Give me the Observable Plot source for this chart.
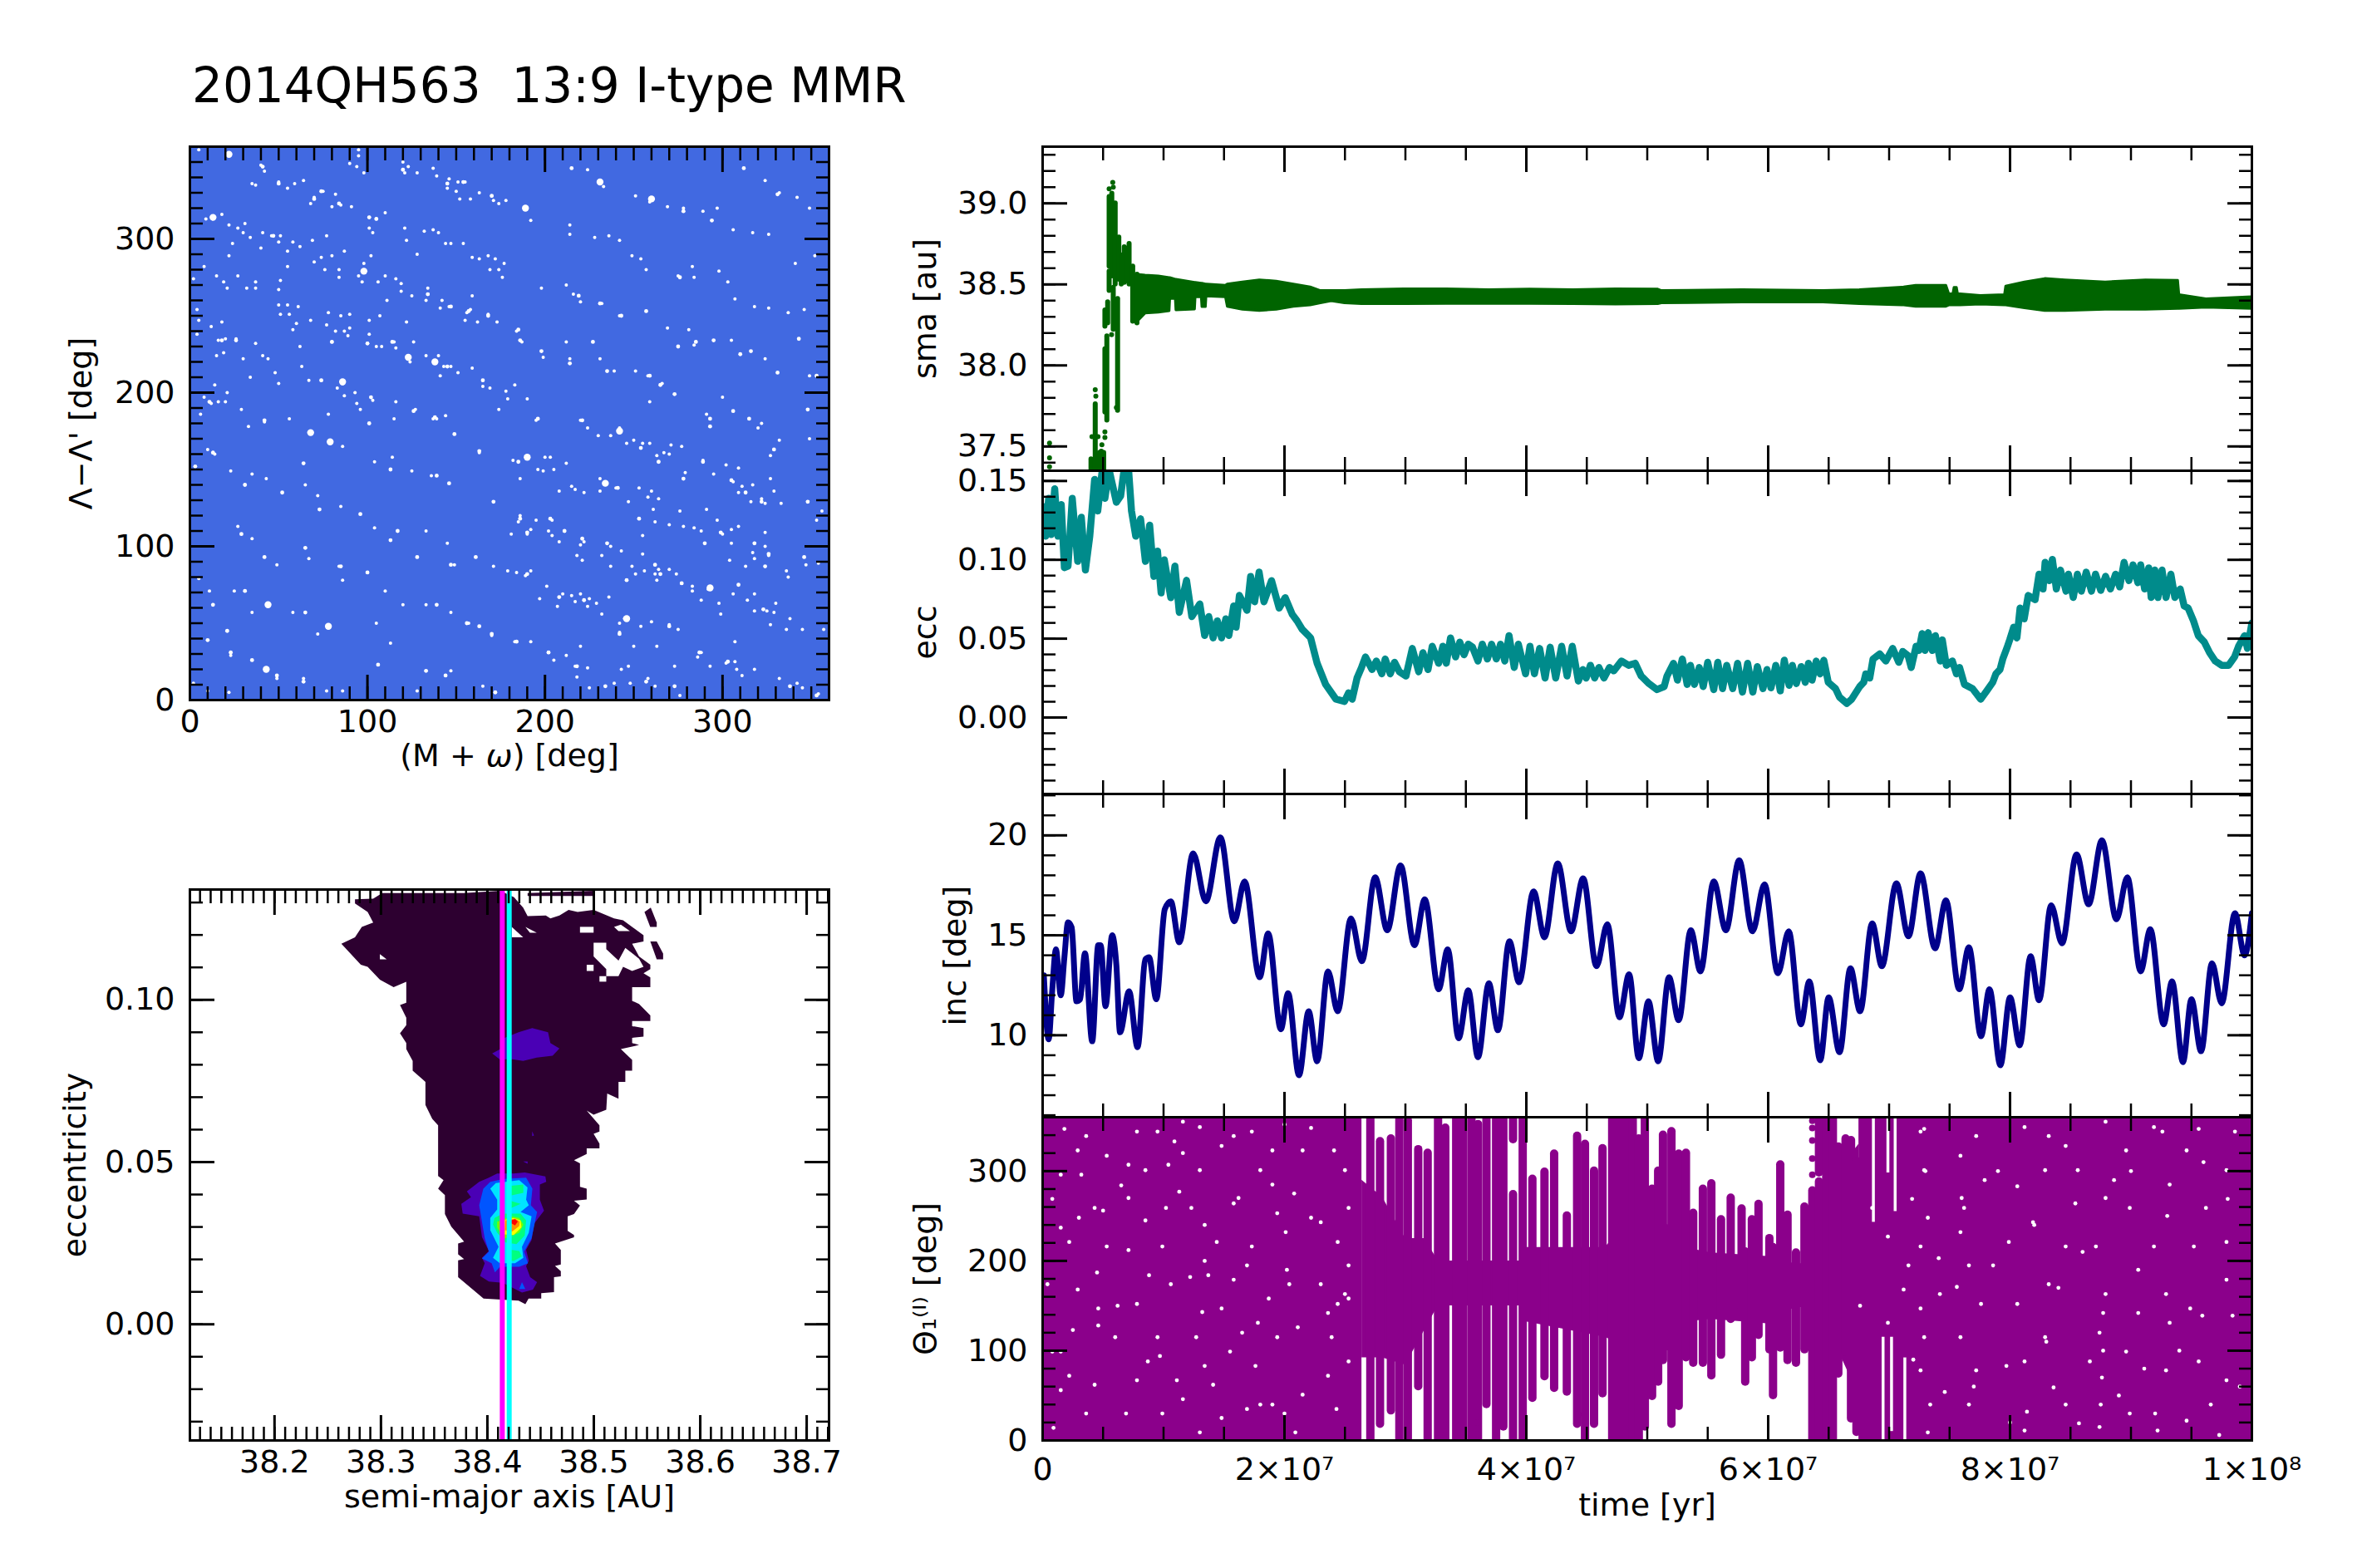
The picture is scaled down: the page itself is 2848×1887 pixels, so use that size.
<!DOCTYPE html>
<html>
<head>
<meta charset="utf-8">
<script src="https://cdn.jsdelivr.net/npm/d3@7"></script>
<script src="https://cdn.jsdelivr.net/npm/@observablehq/plot@0.6"></script>
<style>
  html, body { margin: 0; background: white; }
  #figure { position: relative; width: 2848px; height: 1887px; overflow: hidden; }
  #title { position: absolute; left: 231px; top: 69px; font: 58px "DejaVu Sans"; color: black; white-space: pre; }
</style>
</head>
<body>
<div id="figure"><div id="title">2014QH563  13:9 I-type MMR</div></div>
<script>
// time is kept in units of 1e7 yr
const timeDomain = [0, 10];
const timeTicks = [0, 2, 4, 6, 8, 10];
const timeTickLabels = ["0", "2×10⁷", "4×10⁷", "6×10⁷", "8×10⁷", "1×10⁸"];

// ---- resonant plane: white gaps in the dense cloud of points
const gapsBig = [[13,314],[22,355],[190,158],[234,141],[242,175],[246,53],[123,223],[138,220],[86,207],[98,279],[189,320],[231,337],[260,326],[68,174],[79,168],[43,20],[78,48],[44,62],[293,73]];
const gapsSmall = [[41,347],[50,336],[70,326],[74,331],[84,323],[101,314],[105,313],[120,345],[145,336],[154,337],[170,328],[215,346],[278,318],[294,312],[312,346],[331,329],[47,302],[276,275],[219,263],[231,258],[253,118],[245,53],[172,5],[257,253],[243,250],[295,234],[285,233],[343,235],[310,225],[331,213],[259,211],[265,205],[273,199],[306,188],[293,183],[221,182],[196,183],[214,219],[235,214],[186,234],[185,241],[168,250],[157,253],[147,256],[134,264],[114,233],[145,217],[80,233],[100,232],[74,208],[86,206],[18,234],[26,234],[102,197],[126,188],[138,184],[149,173],[42,182],[13,161],[3,152],[11,194],[163,162],[185,155],[264,155],[241,138],[278,144],[289,155],[305,143],[322,129],[313,135],[348,129],[299,109],[318,102],[326,95],[277,76],[265,82],[323,59],[309,75],[242,43],[270,48],[287,31],[235,102],[246,78],[203,118],[190,109],[186,118],[211,110],[171,129],[146,141],[139,146],[117,110],[113,104],[96,121],[73,124],[52,135],[65,99],[85,87],[100,83],[147,88],[161,93],[190,82],[31,71],[65,57],[49,16],[10,39],[35,26],[23,31],[163,48],[170,43],[156,50],[184,38],[202,31],[218,22],[144,16],[106,23],[133,19],[257,12],[273,9],[303,25],[338,9],[353,3],[234,9],[64,12],[21,45],[221,105],[290,102],[254,164],[353,211],[348,189],[315,183],[293,178],[128,93],[101,180],[64,154],[113,150],[31,140],[29,108],[42,93],[13,62],[139,62],[208,67],[222,65],[262,88],[324,87],[346,93],[329,163],[316,227],[275,230],[227,233],[198,227],[165,208]];
const gapsTiny = [[9,313],[18,316],[5,358],[40,348],[42,344],[50,337],[64,338],[59,336],[55,333],[35,336],[37,335],[75,331],[82,329],[70,327],[68,323],[85,322],[80,321],[91,321],[95,354],[95,358],[90,349],[94,347],[98,343],[121,343],[120,350],[123,347],[128,343],[137,346],[139,341],[146,339],[145,333],[155,337],[151,337],[150,331],[152,326],[158,326],[163,330],[170,328],[171,325],[174,323],[178,325],[27,307],[22,309],[31,310],[30,304],[34,301],[41,304],[46,302],[51,302],[50,298],[58,298],[62,295],[69,299],[77,302],[40,294],[22,289],[24,297],[55,292],[101,314],[105,313],[110,317],[101,307],[103,304],[87,292],[80,289],[74,288],[70,285],[76,280],[84,280],[84,275],[98,284],[102,289],[95,276],[110,276],[106,272],[97,272],[55,282],[8,282],[2,274],[19,272],[15,276],[21,268],[27,276],[37,272],[32,268],[37,268],[50,267],[51,273],[121,307],[137,306],[132,305],[140,304],[122,299],[147,297],[154,297],[144,297],[159,288],[163,287],[172,287],[168,289],[174,280],[177,284],[176,275],[169,280],[128,290],[116,274],[119,271],[119,266],[134,268],[133,260],[125,263],[134,264],[142,260],[146,256],[141,255],[111,260],[159,263],[158,254],[168,251],[162,246],[173,246],[156,252],[155,247],[55,257],[61,256],[50,257],[56,251],[51,251],[60,245],[68,247],[78,252],[85,250],[90,251],[77,244],[58,241],[101,247],[107,250],[122,246],[87,240],[90,242],[82,240],[89,237],[80,233],[100,232],[105,230],[115,233],[116,229],[126,233],[108,230],[101,238],[124,220],[133,224],[140,224],[143,217],[147,217],[151,213],[141,211],[159,216],[20,235],[26,235],[16,234],[19,226],[15,224],[4,238],[12,243],[18,246],[5,247],[4,254],[30,222],[37,232],[41,224],[44,222],[63,217],[48,213],[34,210],[50,206],[62,230],[74,208],[67,208],[83,203],[93,200],[87,198],[14,205],[8,197],[12,193],[20,194],[16,194],[21,200],[29,189],[103,195],[94,193],[127,189],[137,183],[144,185],[174,189],[178,201],[169,203],[165,204],[179,196],[116,194],[6,186],[78,186],[96,189],[42,181],[56,183],[115,183],[182,156],[200,158],[203,158],[212,154],[199,149],[205,150],[196,150],[186,144],[224,177],[230,172],[237,172],[250,169],[259,167],[255,167],[246,167],[271,166],[277,165],[264,155],[267,161],[263,159],[270,160],[289,156],[279,148],[295,147],[302,153],[309,151],[306,142],[317,140],[311,139],[309,135],[327,144],[322,131],[324,128],[316,129],[329,136],[333,128],[348,129],[356,123],[353,117],[332,169],[320,177],[349,170],[327,159],[240,138],[217,137],[215,139],[208,136],[231,136],[222,135],[258,132],[264,131],[253,138],[260,136],[247,129],[231,144],[186,120],[204,117],[185,116],[190,108],[181,108],[192,111],[202,110],[211,110],[204,107],[195,117],[253,118],[262,116],[261,124],[270,114],[276,123],[288,110],[300,108],[305,111],[309,113],[318,102],[324,109],[326,94],[324,100],[305,102],[284,112],[278,113],[291,124],[297,117],[255,107],[317,96],[318,92],[222,103],[237,100],[208,103],[220,101],[218,94],[221,91],[243,97],[232,94],[255,95],[237,87],[249,87],[251,82],[256,84],[264,85],[262,82],[263,78],[274,82],[270,85],[277,76],[283,74],[283,71],[292,72],[288,65],[298,63],[306,69],[318,69],[314,65],[189,81],[192,84],[184,83],[313,87],[304,91],[347,88],[336,84],[337,80],[354,89],[201,74],[197,66],[207,61],[215,68],[217,64],[220,69],[225,66],[229,63],[236,67],[232,56],[210,69],[224,61],[242,50],[242,44],[254,48],[270,49],[275,46],[260,51],[299,56],[325,58],[330,63],[329,57],[338,53],[357,46],[345,46],[336,46],[327,49],[318,58],[183,38],[192,38],[202,31],[205,26],[212,29],[220,35],[217,22],[224,21],[250,35],[263,35],[288,31],[286,28],[307,38],[307,25],[302,24],[293,22],[318,20],[308,20],[332,14],[342,11],[247,22],[243,20],[273,22],[218,15],[248,11],[262,9],[239,11],[225,8],[258,14],[276,3],[345,8],[354,4],[311,16],
  // upper right quarter
  [224,345],[233,334],[251,328],[259,324],[269,321],[278,320],[289,318],[297,320],[306,306],[324,338],[332,330],[342,327],[349,320],[192,312],[214,309],[214,303],[228,301],[236,302],[242,299],[249,289],[254,287],[257,280],[275,276],[283,282],[284,275],[298,279],[303,272],[307,261],[318,256],[326,255],[337,252],[346,254],[352,289],[341,284],[326,303],[317,304],[198,268],[212,270],[216,264],[220,259],[232,258],[242,250],[269,242],[281,241],[284,231],[305,234],[324,222],[349,211],[184,240],[187,233],[199,223],[212,233],[214,222],[231,222],[239,214],[251,214],[258,211],[266,206],[259,194],[291,186],[300,197],[322,180],[183,205],[190,196],[195,182],[220,182],[242,177],
  // lower left quarter
  [86,165],[33,178],[10,163],[14,160],[23,149],[35,147],[43,144],[65,140],[72,133],[85,126],[104,155],[114,158],[125,149],[136,146],[163,161],[139,183],[104,112],[133,110],[145,102],[171,87],[149,88],[179,84],[35,105],[49,88],[27,113],[67,92],[84,87],[86,78],[110,71],[5,79],[11,71],[25,71],[35,57],[58,57],[72,43],[105,50],[120,62],[133,62],[147,57],[157,50],[170,42],[23,29],[43,20],[49,14],[64,14],[77,6],[113,37],[147,19],[165,9],[2,11],[10,6],[22,5],[86,6],[128,6]
];

// ---- a-e density: filled contour levels, [semi-major axis, eccentricity]
const contourOuter = [[38.2756,.131],[38.2927,.1312],[38.3012,.1329],[38.3537,.1329],[38.3781,.1329],[38.4122,.1336],[38.425,.1316],[38.4336,.1284],[38.4378,.1258],[38.4549,.126],[38.4592,.1251],[38.4677,.126],[38.4763,.1277],[38.4848,.1271],[38.4998,.1277],[38.519,.1251],[38.5275,.1245],[38.536,.1225],[38.5467,.1199],[38.5467,.118],[38.536,.1173],[38.5425,.1134],[38.5531,.1108],[38.5531,.1095],[38.5467,.1082],[38.5531,.1069],[38.5531,.1039],[38.536,.1039],[38.536,.0997],[38.5425,.0987],[38.5531,.0952],[38.5531,.0935],[38.536,.0935],[38.536,.0919],[38.5467,.0913],[38.5467,.0887],[38.536,.0883],[38.536,.0867],[38.5425,.0861],[38.5254,.0848],[38.536,.0815],[38.536,.0782],[38.5296,.0782],[38.5296,.0747],[38.5232,.0747],[38.5232,.0695],[38.5126,.0711],[38.5117,.0661],[38.4998,.0646],[38.4933,.0659],[38.5053,.0613],[38.5053,.0594],[38.4998,.0587],[38.5053,.0557],[38.5053,.0542],[38.4933,.0542],[38.4933,.0525],[38.4814,.0506],[38.487,.0496],[38.487,.0424],[38.4933,.0418],[38.4933,.0385],[38.4814,.0381],[38.487,.0366],[38.4814,.034],[38.4754,.0333],[38.4754,.0288],[38.4814,.0275],[38.4814,.0268],[38.4635,.0249],[38.469,.0229],[38.469,.0184],[38.4635,.018],[38.469,.0164],[38.469,.0148],[38.4626,.0145],[38.4626,.0099],[38.4506,.0096],[38.4506,.0079],[38.4387,.0079],[38.4357,.0062],[38.4293,.0073],[38.3964,.0079],[38.3725,.0145],[38.3725,.0197],[38.3781,.0201],[38.3725,.0216],[38.3725,.0249],[38.3781,.0255],[38.3661,.0301],[38.3601,.034],[38.3601,.0398],[38.3537,.0418],[38.3588,.0444],[38.3537,.0457],[38.3537,.0613],[38.3482,.0633],[38.3418,.0676],[38.3418,.0747],[38.3298,.0782],[38.3298,.0812],[38.3238,.0848],[38.3238,.0867],[38.3179,.0897],[38.3238,.0922],[38.3238,.0945],[38.3179,.0984],[38.3238,.0991],[38.3238,.1056],[38.3119,.1039],[38.299,.1062],[38.2875,.1102],[38.2811,.1108],[38.2628,.1173],[38.2756,.1193],[38.282,.1225],[38.2927,.1238],[38.2875,.1271],[38.2756,.1297]];
const contourOuterIslands = [
  [[38.4378,.1329],[38.4998,.1336],[38.4998,.132],[38.4378,.132]],
  [[38.5476,.1271],[38.5535,.1284],[38.5591,.1238],[38.5591,.1225],[38.553,.1225]],
  [[38.5531,.118],[38.5591,.118],[38.5651,.1143],[38.5651,.1125],[38.5591,.1125]]
];
const contourHoles = [
  [[38.487,.1225],[38.4998,.1225],[38.4998,.1207],[38.487,.1207]],
  [[38.519,.1225],[38.5254,.1232],[38.5339,.1212],[38.5232,.1212]],
  [[38.4998,.1176],[38.5117,.1176],[38.5117,.1156],[38.5232,.1121],[38.5296,.116],[38.5425,.1127],[38.5467,.1102],[38.536,.1089],[38.5275,.1102],[38.5232,.1073],[38.5117,.1073],[38.5117,.1095],[38.4998,.1134]],
  [[38.4933,.1108],[38.4998,.1108],[38.4998,.1089],[38.4933,.1089]],
  [[38.5053,.1073],[38.5117,.1073],[38.5117,.1056],[38.5053,.1056]],
  [[38.4229,.1225],[38.4336,.1193],[38.4229,.1193]],
  [[38.4357,.1225],[38.4464,.1207],[38.44,.1207]],
  [[38.299,.1141],[38.3054,.1125],[38.299,.1125]]
];
const contourViolet = [
  [[38.4092,.0465],[38.4247,.0465],[38.4351,.0468],[38.4545,.0456],[38.4553,.0439],[38.4493,.0431],[38.4493,.0384],[38.4532,.035],[38.4441,.0311],[38.4415,.026],[38.4364,.023],[38.4389,.0196],[38.4364,.0179],[38.4402,.0145],[38.4467,.013],[38.4428,.0107],[38.4325,.0098],[38.4143,.0128],[38.4014,.0132],[38.3931,.0149],[38.3975,.0188],[38.3949,.0205],[38.4014,.0226],[38.3949,.0269],[38.3923,.0333],[38.3768,.0341],[38.3755,.0371],[38.3846,.0392],[38.3807,.041],[38.3923,.0439],[38.4014,.0452]],
  [[38.4045,.0835],[38.4122,.0848],[38.4144,.088],[38.4293,.09],[38.4421,.0913],[38.457,.09],[38.4592,.0867],[38.4677,.085],[38.4613,.0828],[38.4464,.0822],[38.4336,.0812],[38.4208,.0818],[38.4122,.0815]],
  [[38.4421,.0595],[38.4438,.0582],[38.4421,.058]],
  [[38.4336,.0502],[38.4378,.0502],[38.4378,.0495]]
];
const contourBlue = [
  [[38.3962,.0418],[38.4027,.0439],[38.4156,.0448],[38.4364,.0452],[38.4423,.0418],[38.4408,.0367],[38.4467,.0346],[38.4415,.0265],[38.4345,.0224],[38.4382,.0188],[38.4299,.0177],[38.4118,.0177],[38.4071,.016],[38.404,.0188],[38.3949,.0203],[38.4014,.0224],[38.3975,.0265],[38.3923,.0367]],
  [[38.4299,.0109],[38.4325,.013],[38.4356,.0109]]
];
const contourCyan = [[38.4027,.0418],[38.4079,.0435],[38.4299,.0444],[38.4377,.0422],[38.4364,.0384],[38.4389,.0367],[38.4312,.0346],[38.4415,.0333],[38.4389,.0282],[38.4325,.0239],[38.4338,.0205],[38.426,.0188],[38.4118,.0188],[38.4053,.0205],[38.4105,.0239],[38.4027,.029],[38.4027,.0328],[38.4092,.0354],[38.4092,.0384]];
const contourGreen = [
  [[38.4221,.0427],[38.4338,.0431],[38.4338,.0405],[38.4221,.0397]],
  [[38.4221,.038],[38.4312,.0371],[38.4221,.0358]],
  [[38.4066,.0328],[38.4143,.0341],[38.4312,.0341],[38.4364,.032],[38.4351,.0273],[38.4273,.0247],[38.4169,.0252],[38.4092,.0282],[38.4053,.0307]],
  [[38.4221,.023],[38.4299,.0226],[38.4325,.0209],[38.4247,.0195],[38.4221,.0196]]
];
const contourLime = [[38.4092,.0316],[38.4221,.0333],[38.4299,.0328],[38.4338,.0307],[38.4299,.0282],[38.4169,.0265],[38.4118,.0282],[38.4092,.0299]];
const contourYellow = [[38.4143,.032],[38.4247,.0328],[38.4312,.032],[38.432,.0299],[38.4247,.0275],[38.4156,.0277]];
const contourOrange = [[38.4169,.032],[38.426,.0326],[38.4304,.0316],[38.4299,.0303],[38.4234,.0286],[38.4164,.029]];
const contourRed = [[38.4216,.032],[38.426,.0324],[38.4286,.0317],[38.426,.0305],[38.4226,.0311]];
const exactA = 38.414;
const meanA = 38.4205;

// ---- sma: band of the oscillation [t, lower, upper]
const smaBand = [[.78,38.265,38.56],[.85,38.32,38.555],[.96,38.325,38.55],[1.05,38.335,38.54],[1.055,38.41,38.54],[1.1,38.41,38.53],[1.105,38.34,38.53],[1.26,38.345,38.51],[1.265,38.42,38.51],[1.315,38.42,38.505],[1.32,38.36,38.505],[1.35,38.36,38.5],[1.355,38.425,38.5],[1.515,38.42,38.492],[1.53,38.362,38.5],[1.655,38.344,38.513],[1.795,38.336,38.526],[1.935,38.344,38.518],[2.076,38.362,38.5],[2.216,38.37,38.482],[2.3,38.383,38.46],[2.39,38.396,38.46],[2.5,38.383,38.46],[2.64,38.378,38.466],[2.99,38.378,38.471],[3.34,38.38,38.471],[3.69,38.38,38.466],[4.03,38.38,38.469],[4.39,38.378,38.466],[4.74,38.375,38.471],[5.09,38.378,38.469],[5.12,38.383,38.46],[5.79,38.388,38.466],[6.457,38.388,38.46],[6.757,38.378,38.466],[7.123,38.37,38.482],[7.223,38.362,38.492],[7.473,38.362,38.492],[7.497,38.37,38.44],[7.53,38.37,38.44],[7.54,38.37,38.48],[7.56,38.37,38.48],[7.57,38.37,38.44],[7.59,38.37,38.44],[7.757,38.375,38.43],[7.957,38.37,38.435],[7.967,38.37,38.487],[8.123,38.352,38.513],[8.29,38.336,38.534],[8.457,38.336,38.526],[8.79,38.344,38.513],[9.123,38.344,38.526],[9.39,38.349,38.523],[9.4,38.349,38.435],[9.623,38.357,38.409],[10,38.349,38.422]];
// early, unsettled part: streaks [t, low, high] and loose points [t, a]
const smaStreaks = [[.40,37.35,37.42],[.435,37.35,37.76],[.47,37.35,37.46],[.505,37.35,37.46],[.515,37.71,38.1],[.531,37.66,38.18],[.515,38.24,38.34],[.538,38.26,38.39],[.55,38.61,39.04],[.55,38.46,38.58],[.572,38.55,39.06],[.6,38.5,39],[.63,38.53,38.79],[.675,38.51,38.73],[.715,38.5,38.75],[.62,37.72,38.41],[.584,38.22,38.48],[.745,38.27,38.61],[.78,38.26,38.56],[.65,38.5,38.68],[.695,38.52,38.72]];
const smaLoose = [[.057,37.52],[.057,37.43],[.057,37.375],[.435,37.85],[.44,37.81],[.408,37.56],[.515,37.555],[.515,37.59],[.49,37.51],[.458,37.56],[.485,37.47],[.57,38.19],[.58,39.13],[.55,39.09],[.584,39.1],[.61,37.74]];

// ---- ecc [t, e]
const eccSeries = [[0,.134],[.025,.115],[.05,.139],[.07,.116],[.1,.145],[.126,.115],[.154,.135],[.18,.095],[.21,.096],[.245,.139],[.29,.099],[.32,.127],[.354,.0935],[.39,.115],[.43,.151],[.456,.131],[.49,.155],[.515,.139],[.55,.157],[.61,.1365],[.645,.1405],[.67,.155],[.71,.158],[.735,.131],[.77,.115],[.81,.126],[.85,.099],[.885,.122],[.92,.0895],[.95,.1055],[.98,.079],[1.006,.1],[1.06,.076],[1.094,.096],[1.13,.0667],[1.19,.087],[1.234,.064],[1.3,.072],[1.34,.052],[1.374,.064],[1.41,.0505],[1.445,.0613],[1.48,.0505],[1.515,.0626],[1.54,.052],[1.58,.0707],[1.6,.0573],[1.627,.0774],[1.69,.068],[1.72,.0895],[1.753,.0734],[1.79,.0922],[1.83,.0734],[1.893,.0868],[1.956,.0694],[2.006,.076],[2.065,.0653],[2.104,.0613],[2.146,.056],[2.216,.0505],[2.27,.0344],[2.34,.021],[2.426,.0116],[2.496,.0102],[2.53,.0156],[2.56,.0116],[2.6,.025],[2.637,.0317],[2.67,.0384],[2.724,.0304],[2.76,.0358],[2.805,.0277],[2.833,.0371],[2.875,.0277],[2.91,.035],[2.95,.029],[3.005,.0263],[3.057,.0438],[3.11,.029],[3.145,.0411],[3.187,.0304],[3.222,.0452],[3.275,.0344],[3.31,.0452],[3.338,.0344],[3.373,.0505],[3.415,.0384],[3.45,.0478],[3.485,.0398],[3.52,.0465],[3.555,.0446],[3.6,.0358],[3.636,.0465],[3.678,.0371],[3.713,.0465],[3.752,.0371],[3.787,.0465],[3.822,.0358],[3.857,.0519],[3.9,.0317],[3.934,.0465],[3.994,.0277],[4.03,.0452],[4.067,.0277],[4.11,.0438],[4.155,.025],[4.197,.0446],[4.243,.025],[4.292,.0452],[4.337,.0263],[4.38,.0452],[4.43,.0231],[4.467,.0304],[4.495,.025],[4.53,.0331],[4.565,.025],[4.6,.0317],[4.642,.025],[4.688,.0317],[4.723,.0296],[4.786,.0358],[4.846,.0331],[4.9,.0344],[4.95,.0263],[5.014,.0215],[5.08,.0177],[5.14,.0196],[5.163,.0263],[5.217,.0344],[5.25,.0237],[5.29,.0371],[5.33,.021],[5.357,.0331],[5.39,.021],[5.43,.0317],[5.463,.0196],[5.5,.035],[5.55,.0177],[5.583,.035],[5.623,.0183],[5.657,.0331],[5.707,.0183],[5.747,.0344],[5.787,.0161],[5.83,.0344],[5.873,.0161],[5.91,.0323],[5.957,.0183],[5.99,.0304],[6.023,.0188],[6.063,.0331],[6.1,.0169],[6.133,.0363],[6.173,.0204],[6.2,.0331],[6.233,.0215],[6.273,.0323],[6.307,.0223],[6.333,.0344],[6.363,.0237],[6.397,.0358],[6.43,.0277],[6.46,.0363],[6.497,.0223],[6.557,.0183],[6.59,.0129],[6.65,.0089],[6.69,.0116],[6.757,.0196],[6.79,.0223],[6.807,.0277],[6.84,.025],[6.867,.0371],[6.923,.0403],[6.973,.0358],[7.03,.0438],[7.08,.035],[7.113,.0419],[7.157,.0392],[7.183,.0317],[7.223,.0452],[7.247,.0425],[7.273,.0532],[7.297,.0425],[7.323,.0538],[7.357,.0425],[7.383,.0519],[7.423,.0358],[7.44,.0492],[7.473,.0331],[7.523,.0358],[7.557,.0277],[7.583,.0317],[7.623,.021],[7.69,.0183],[7.757,.0116],[7.807,.0169],[7.857,.0223],[7.883,.0277],[7.917,.0304],[7.94,.0371],[7.973,.0438],[7.997,.0492],[8.03,.0573],[8.057,.0505],[8.083,.0694],[8.117,.0626],[8.15,.0774],[8.207,.0747],[8.24,.0909],[8.273,.0815],[8.29,.0984],[8.323,.0868],[8.35,.1003],[8.383,.0815],[8.417,.0935],[8.463,.0801],[8.483,.0909],[8.523,.0761],[8.557,.0909],[8.59,.0801],[8.63,.0922],[8.673,.0801],[8.707,.0909],[8.75,.0806],[8.79,.0895],[8.83,.0815],[8.873,.0909],[8.907,.0828],[8.943,.0984],[8.983,.0868],[9.017,.0968],[9.057,.0855],[9.08,.0968],[9.113,.0815],[9.147,.0949],[9.167,.0761],[9.197,.0935],[9.223,.0761],[9.257,.0935],[9.29,.0761],[9.33,.0909],[9.363,.0761],[9.407,.0815],[9.44,.0707],[9.473,.0694],[9.517,.0613],[9.557,.0519],[9.607,.0478],[9.65,.0411],[9.697,.0358],[9.75,.0331],[9.807,.0331],[9.857,.0384],[9.89,.0452],[9.94,.0519],[9.963,.0438],[10,.06]];

// ---- inc [t, i]
const incSeries = [[.01,13],[.05,9.8],[.08,12.3],[.11,14.3],[.15,12],[.18,13.9],[.21,15.65],[.24,15.4],[.28,11.7],[.31,11.8],[.35,14.1],[.41,9.7],[.46,14.5],[.48,14.5],[.52,11.45],[.575,15],[.61,13.5],[.64,10.15],[.715,12.2],[.785,9.4],[.85,13.8],[.88,13.9],[.94,11.8],[1.01,16.3],[1.06,16.7],[1.13,14.65],[1.245,19.1],[1.35,16.7],[1.47,19.9],[1.585,15.7],[1.67,17.7],[1.795,12.9],[1.865,15.1],[1.97,10.3],[2.03,12.1],[2.12,8],[2.2,11.2],[2.27,8.7],[2.36,13.2],[2.44,11.2],[2.55,15.85],[2.64,13.7],[2.75,17.9],[2.85,15.25],[2.96,18.5],[3.075,14.5],[3.16,16.8],[3.275,12.3],[3.35,14.3],[3.44,9.85],[3.52,12.25],[3.6,8.9],[3.69,12.6],[3.765,10.25],[3.86,14.7],[3.94,12.65],[4.06,17.2],[4.15,14.9],[4.26,18.6],[4.37,15.2],[4.47,17.85],[4.58,13.45],[4.67,15.55],[4.77,10.9],[4.85,13.05],[4.93,8.85],[5.01,11.7],[5.09,8.7],[5.18,12.9],[5.26,10.75],[5.36,15.25],[5.44,13.2],[5.55,17.7],[5.65,15.25],[5.76,18.75],[5.87,15.2],[5.97,17.55],[6.08,13.1],[6.17,15.2],[6.27,10.55],[6.34,12.7],[6.43,8.75],[6.5,11.9],[6.59,9.15],[6.68,13.35],[6.76,11.2],[6.86,15.6],[6.94,13.45],[7.06,17.6],[7.16,14.95],[7.26,18.1],[7.38,14.35],[7.47,16.75],[7.58,12.3],[7.66,14.4],[7.76,9.95],[7.83,12.3],[7.92,8.5],[8,11.9],[8.08,9.5],[8.17,13.95],[8.24,11.75],[8.34,16.5],[8.43,14.6],[8.55,19.05],[8.65,16.55],[8.76,19.75],[8.88,15.8],[8.97,17.9],[9.08,13.2],[9.16,15.3],[9.27,10.55],[9.34,12.7],[9.43,8.65],[9.5,11.8],[9.58,9.2],[9.67,13.6],[9.75,11.6],[9.86,16.1],[9.94,14],[10,16.1]];

// ---- resonant angle: circulating blocks, central mass, libration streaks, gaps
const thetaBlocks = [[0,2.64],[6.75,10]];
const thetaMass = [[2.64,92,290],[2.81,92,271],[3,84,225],[3.16,123,225],[3.27,150,200],[3.96,150,200],[4,132,215],[4.65,115,215],[4.89,101,250],[5.18,100,240],[5.3,132,215],[5.53,135,209],[5.99,130,205],[6.22,148,197],[6.4,148,197],[6.48,120,220],[6.58,100,300],[6.75,50,330]];
const thetaStreaks = [[2.71,0,360],[2.79,18,333],[2.88,33,336],[2.95,0,360],[3.02,0,356],[3.106,60,324],[3.184,0,320],[3.27,0,360],[3.33,0,348],[3.42,0,360],[3.477,0,360],[3.546,0,360],[3.6,0,352],[3.67,40,360],[3.75,0,360],[3.81,15,360],[3.89,0,274],[3.89,335,360],[3.97,0,358],[4.05,47,291],[4.15,71,299],[4.23,58,319],[4.335,54,250],[4.42,18,339],[4.485,0,330],[4.56,18,300],[4.63,52,325],[4.71,0,358],[4.76,0,360],[4.82,0,360],[4.88,0,360],[4.93,0,336],[4.98,15,358],[5.04,49,280],[5.09,65,300],[5.13,89,340],[5.2,18,344],[5.26,38,319],[5.32,92,320],[5.38,86,253],[5.46,86,280],[5.53,72,286],[5.61,95,246],[5.69,135,270],[5.78,148,258],[5.81,65,210],[5.865,92,246],[5.92,117,263],[6.01,101,225],[6.04,50,215],[6.1,103,307],[6.16,89,251],[6.23,86,209],[6.3,101,260],[6.365,0,278],[6.42,0,288],[6.42,298,360],[6.48,0,360],[6.535,0,360],[6.58,74,327],[6.64,98,336],[6.685,24,334],[6.73,9,311]];
const thetaGapStreaks = [[6.87,243,360],[6.99,298,360],[7.05,255,360],[6.95,0,115],[7.02,10,115],[7.13,0,92]];
const thetaLoose = [[6.365,356],[6.365,348],[6.365,334],[6.365,314],[6.365,296],[3.33,17],[3.33,6],[3.6,20],[3.6,7],[4.43,29],[3.02,354],[4.485,328]];
const thetaGaps = [[.53,317],[1.16,320],[.5,256],[.65,284],[.71,270],[.85,245],[1.04,307],[1.13,277],[.32,296],[1.34,240],[1.34,200],[.71,212],[1.22,182],[2.3,174],[2.3,243],[2.22,248],[2.15,323],[2.22,348],[1.9,323],[1.48,147],[1.32,143],[1.06,174],[.78,152],[.62,150],[.46,128],[.25,123],[.97,94],[.87,88],[1.55,99],[1.11,67],[.69,30],[.15,56],[2.15,51],[2.09,9],[2.39,115],[2.44,152],[2.53,195],[2.5,163],[2.36,142],[2.02,190],[2.04,174],[1.69,195],[1.62,270],[1.37,184],[.45,187],[.15,237],[.3,248],[1.09,333],[1.9,40],[1.16,46],[1.41,62],[1.69,35],[.43,62],[.22,72],[.08,99],[1.94,115],[1.78,131],[1.44,221],[1.58,264],[1.9,285],[1.58,339],[.78,344],[1.16,355],[.29,323],[.08,269],
  [.18,347],[.36,339],[.95,344],[1.3,349],[1.48,328],[1.73,344],[2,352],[2.41,323],[.71,307],[.15,296],[.85,301],[1.3,301],[1.8,301],[2.08,275],[2.5,301],[.43,259],[1.02,259],[1.23,259],[1.94,253],[2.53,259],[.22,221],[.53,216],[.99,216],[1.73,216],[2.01,232],[2.44,221],[.29,168],[.88,184],[1.58,179],[1.87,158],[2.53,158],[.04,174],[.46,147],[1.27,115],[1.65,120],[2.11,126],[.15,99],[.6,115],[.95,115],[.78,67],[1.34,83],[1.76,83],[2.36,72],[2.53,88],[.99,30],[1.48,25],[1.8,40],[2.43,35],[.36,30],[.09,14],[1.3,9],[2,30],
  [8.56,301],[7.46,54],[8.57,19],[9.26,344],[8.32,339],[7.29,347],[7.59,317],[8.06,283],[8.79,270],[8.54,264],[7.59,232],[7.26,216],[7.41,203],[8.77,142],[8.79,163],[8.71,216],[9.11,80],[8.36,59],[8.14,32],[7.97,83],[7.34,40],[7.76,152],[7.56,171],[7.86,195],[9.52,216],[9.8,269],[9.59,139],[9.84,139],[9.49,147],[9.06,190],[9.46,22],[9.73,6],[7.12,168],[7.29,115],[8.77,100],[8.76,70],[8.75,40],[8.74,15],[8.74,120],[7.9,300],[8.2,240],[8.4,170],[9,300],[9.3,250],[9.6,310],[7.7,60],[8,20],[8.9,50],[9.2,30],[9.9,60],[7.2,90],[7.3,300],[7.6,270],[8.3,110],[8.6,210],[9.4,100],
  [8.12,349],[8.79,355],[9.19,349],[9.56,347],[9.86,344],[7.26,344],[7.72,339],[8.46,328],[8.96,323],[9.46,323],[9.79,301],[7.29,301],[7.79,290],[8.29,301],[8.86,290],[9.32,285],[7.19,269],[7.62,259],[8.19,243],[8.99,259],[9.62,259],[7.32,248],[7.99,221],[8.46,216],[9.19,216],[9.79,221],[6.99,227],[6.86,259],[7.16,195],[7.66,195],[8.32,174],[9.29,163],[9.79,179],[7.42,163],[8.06,152],[9.06,142],[9.32,131],[6.76,150],[6.99,131],[7.26,147],[7.59,115],[8.29,115],[8.96,99],[9.56,88],[7.26,78],[7.72,78],[8.12,88],[8.66,88],[9.29,78],[9.79,67],[7.66,40],[8.46,40],[8.99,30],[9.66,40],[7.32,9],[8.12,11],[9.22,11]];

// ---- layout of the figure
const W = 2848, H = 1887;
const boxPlane = [228, 997, 176, 842];
const boxAE = [228, 997, 1070, 1733];
const boxSma = [1254, 2709, 176, 566];
const boxEcc = [1254, 2709, 566, 955];
const boxInc = [1254, 2709, 955, 1344];
const boxTheta = [1254, 2709, 1344, 1733];
const rng = (a, b, s) => d3.range(a, b + s / 2, s);

function tickMarks(xMajor, xMinor, yMajor, yMinor) {
  const o = { fill: "none", label: null };
  const mj = { ...o, strokeWidth: 3 }, mn = { ...o, strokeWidth: 2.5 };
  const big = -30, small = -16;
  return [
    Plot.axisX(xMinor, { ...mn, anchor: "bottom", tickSize: small }),
    Plot.axisX(xMinor, { ...mn, anchor: "top", tickSize: small }),
    Plot.axisX(xMajor, { ...mj, anchor: "bottom", tickSize: big }),
    Plot.axisX(xMajor, { ...mj, anchor: "top", tickSize: big }),
    Plot.axisY(yMinor, { ...mn, anchor: "left", tickSize: small }),
    Plot.axisY(yMinor, { ...mn, anchor: "right", tickSize: small }),
    Plot.axisY(yMajor, { ...mj, anchor: "left", tickSize: big }),
    Plot.axisY(yMajor, { ...mj, anchor: "right", tickSize: big })
  ];
}

function xLabels(ticks, label, labelOffset, padding, fmt) {
  return Plot.axisX(ticks, { anchor: "bottom", tickSize: 0, stroke: "none", tickPadding: padding, tickFormat: fmt,
    label, labelAnchor: "center", labelArrow: "none", labelOffset });
}
function yLabels(ticks, label, labelOffset, fmt) {
  return Plot.axisY(ticks, { anchor: "left", tickSize: 0, stroke: "none", tickPadding: 18, tickFormat: fmt,
    label, labelAnchor: "center", labelArrow: "none", labelOffset });
}

function panel(box, xDomain, yDomain, marks) {
  const chart = Plot.plot({
    width: W, height: H,
    marginLeft: box[0], marginRight: W - box[1], marginTop: box[2], marginBottom: H - box[3],
    x: { domain: xDomain }, y: { domain: yDomain },
    style: { fontFamily: "DejaVu Sans", fontSize: "38px", color: "black", background: "transparent", position: "absolute", left: 0, top: 0, maxWidth: "none" },
    marks: [...marks, Plot.frame({ stroke: "black", strokeWidth: 3 })]
  });
  document.getElementById("figure").append(chart);
  return chart;
}

const px = d => d[0], py = d => d[1];
const polygon = (pts, fill) => Plot.line(pts, { x: px, y: py, fill, stroke: "none", clip: true });

// resonant plane
const plane = panel(boxPlane, [0, 360], [0, 360], [
  Plot.rect([[0, 360, 0, 360]], { x1: d => d[0], x2: d => d[1], y1: d => d[2], y2: d => d[3], fill: "#4169e1" }),
  Plot.dot(gapsTiny, { x: px, y: py, r: 2, fill: "white", clip: true }),
  Plot.dot(gapsSmall, { x: px, y: py, r: 2.4, fill: "white", clip: true }),
  Plot.dot(gapsBig, { x: px, y: py, r: 4.2, fill: "white", clip: true }),
  ...tickMarks(rng(0, 300, 100), rng(0, 360, 10), rng(0, 300, 100), rng(0, 360, 10)),
  xLabels(rng(0, 300, 100), "(M + ω) [deg]", 79, 12),
  yLabels(rng(0, 300, 100), "Λ−Λ' [deg]", 145)
]);
d3.select(plane).selectAll("text").filter(function () { return this.textContent.includes("ω"); })
  .html("(M + <tspan font-style='italic'>ω</tspan>) [deg]");

// a-e density
panel(boxAE, [38.1205, 38.721], [-0.0358, 0.134], [
  polygon(contourOuter, "#2d0030"),
  ...contourOuterIslands.map(p => polygon(p, "#2d0030")),
  ...contourHoles.map(p => polygon(p, "white")),
  ...contourViolet.map(p => polygon(p, "#4a00b5")),
  ...contourBlue.map(p => polygon(p, "#0055ff")),
  polygon(contourCyan, "#00e5ff"),
  ...contourGreen.map(p => polygon(p, "#00ff80")),
  polygon(contourLime, "#70ff00"),
  polygon(contourYellow, "#ffff00"),
  polygon(contourOrange, "#ff9000"),
  polygon(contourRed, "#ff0000"),
  Plot.ruleX([exactA], { stroke: "#ff00ff", strokeWidth: 6 }),
  Plot.ruleX([meanA], { stroke: "#00ffff", strokeWidth: 6 }),
  ...tickMarks(rng(38.2, 38.7, 0.1), rng(38.13, 38.72, 0.01), rng(0, 0.1, 0.05), rng(-0.03, 0.13, 0.01)),
  xLabels(rng(38.2, 38.7, 0.1), "semi-major axis [AU]", 80, 12, d3.format(".1f")),
  yLabels(rng(0, 0.1, 0.05), "eccentricity", 152, d3.format(".2f"))
]);

const timeMinor = rng(0, 10, 0.5);

// sma
panel(boxSma, timeDomain, [37.35, 39.35], [
  Plot.ruleX(smaStreaks, { x: px, y1: d => d[1], y2: d => d[2], stroke: "#006400", strokeWidth: 6, strokeLinecap: "round", clip: true }),
  Plot.dot(smaLoose, { x: px, y: py, r: 3, fill: "#006400", clip: true }),
  Plot.areaY(smaBand, { x: px, y1: d => d[1], y2: d => d[2], fill: "#006400", stroke: "#006400", strokeWidth: 3 }),
  ...tickMarks(timeTicks, timeMinor, rng(37.5, 39, 0.5), rng(37.4, 39.3, 0.1)),
  yLabels(rng(37.5, 39, 0.5), "sma [au]", 155, d3.format(".1f"))
]);

// ecc
panel(boxEcc, timeDomain, [-0.0485, 0.1565], [
  Plot.line(eccSeries, { x: px, y: py, stroke: "#008b8b", strokeWidth: 8.5, strokeLinejoin: "round", strokeLinecap: "round", clip: true }),
  ...tickMarks(timeTicks, timeMinor, rng(0, 0.15, 0.05), rng(-0.04, 0.15, 0.01)),
  yLabels(rng(0, 0.15, 0.05), "ecc", 155, d3.format(".2f"))
]);

// inc
panel(boxInc, timeDomain, [5.9, 22.07], [
  Plot.line(incSeries, { x: px, y: py, stroke: "#00008b", strokeWidth: 7, curve: "monotone-x", clip: true }),
  ...tickMarks(timeTicks, timeMinor, rng(10, 20, 5), rng(6, 22, 1)),
  yLabels(rng(10, 20, 5), "inc [deg]", 119)
]);

// resonant angle
panel(boxTheta, timeDomain, [0, 360], [
  Plot.rect(thetaBlocks, { x1: px, x2: py, y1: () => 0, y2: () => 360, fill: "#8b008b" }),
  Plot.areaY(thetaMass, { x: px, y1: d => d[1], y2: d => d[2], fill: "#8b008b" }),
  Plot.ruleX(thetaStreaks, { x: px, y1: d => d[1], y2: d => d[2], stroke: "#8b008b", strokeWidth: 10, strokeLinecap: "round", clip: true }),
  Plot.dot(thetaLoose, { x: px, y: py, r: 4, fill: "#8b008b", clip: true }),
  Plot.ruleX(thetaGapStreaks, { x: px, y1: d => d[1], y2: d => d[2], stroke: "white", strokeWidth: 3.5, clip: true }),
  Plot.dot(thetaGaps, { x: px, y: py, r: 2.4, fill: "white", clip: true }),
  ...tickMarks(timeTicks, timeMinor, rng(0, 300, 100), rng(0, 360, 20)),
  xLabels(timeTicks, "time [yr]", 90, 21, (d, i) => timeTickLabels[i]),
  yLabels(rng(0, 300, 100), "Θ₁⁽ᴵ⁾ [deg]", 155)
]);
</script>
</body>
</html>
